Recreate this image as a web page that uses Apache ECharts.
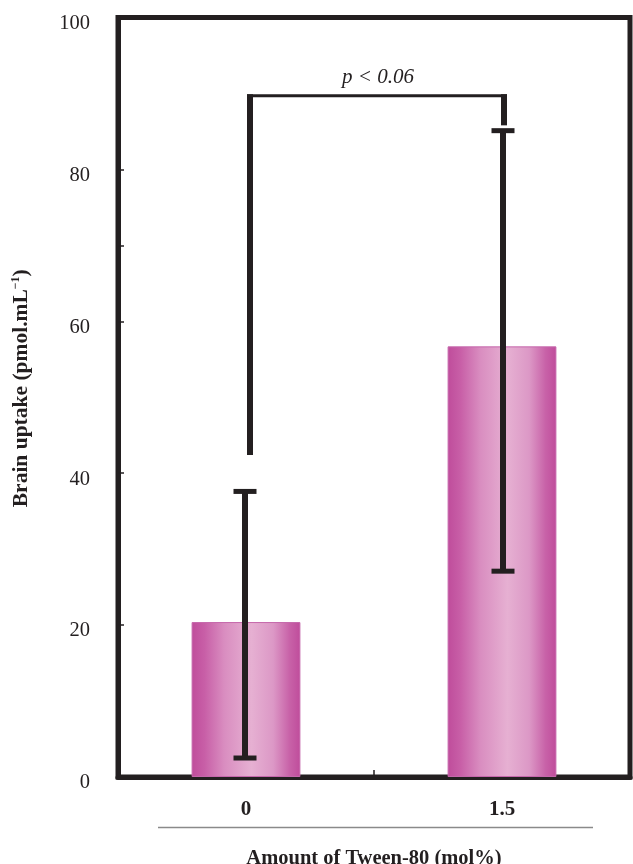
<!DOCTYPE html>
<html>
<head>
<meta charset="utf-8">
<script src="https://cdn.jsdelivr.net/npm/echarts@6/dist/echarts.min.js"></script>
<style>
  html, body { margin: 0; padding: 0; background: #ffffff; }
  #chart { width: 633px; height: 864px; }
</style>
</head>
<body>
<div id="chart"></div>
<script>
// Brain uptake by Tween-80 content
const categories = ['0', '1.5'];
const uptakeMean = [20.4, 56.7];
const errLow = [2.5, 27.1];
const errHigh = [37.6, 85.1];
const yTickLabels = [0, 20, 40, 60, 80, 100];
const yTickMarks = [20, 40, 60, 70, 80];
// significance bracket: left leg start, top, right leg end
const bracketFrom = [0, 42.4];
const bracketTop = 89.7;
const bracketTo = [1, 85.8];
const pLabel = 'p < 0.06';

const ink = '#231f20';
const serif = '"Liberation Serif", "DejaVu Serif", serif';

const chart = echarts.init(document.getElementById('chart'));

const barFill = new echarts.graphic.LinearGradient(0, 0, 1, 0, [
  { offset: 0.00, color: '#bf4c9b' },
  { offset: 0.12, color: '#c85fa7' },
  { offset: 0.30, color: '#d98dc0' },
  { offset: 0.55, color: '#e6b0d2' },
  { offset: 0.75, color: '#dc98c6' },
  { offset: 0.90, color: '#c862a8' },
  { offset: 1.00, color: '#bf4c9b' }
]);

chart.setOption({
  animation: false,
  backgroundColor: '#ffffff',
  grid: {
    left: 118, right: 3, top: 17.5, bottom: 87,
    outerBoundsMode: 'none',
    containLabel: false,
    show: true, borderColor: ink, borderWidth: 5, backgroundColor: 'transparent'
  },
  xAxis: {
    type: 'category',
    data: categories,
    boundaryGap: true,
    axisLine: { show: true, lineStyle: { color: ink, width: 5 } },
    axisTick: { show: true, inside: true, length: 7, lineStyle: { color: ink, width: 1.5 } },
    axisLabel: { color: ink, fontFamily: serif, fontWeight: 'bold', fontSize: 21, margin: 22 },
    name: 'Amount of Tween-80 (mol%)',
    nameLocation: 'middle',
    nameGap: 71,
    nameTextStyle: { color: ink, fontFamily: serif, fontWeight: 'bold', fontSize: 20.5 }
  },
  yAxis: {
    type: 'value',
    min: 0, max: 100, interval: 20,
    splitLine: { show: false },
    axisLine: { show: true, lineStyle: { color: ink, width: 5 } },
    axisTick: {
      show: true, inside: true, length: 6,
      customValues: yTickMarks,
      lineStyle: { color: ink, width: 1.5 }
    },
    axisLabel: {
      color: ink, fontFamily: serif, fontSize: 20.5, margin: 28,
      customValues: yTickLabels,
      verticalAlign: 'top',
      lineHeight: 12
    },
    name: 'Brain uptake (pmol.mL{sup|−1})',
    nameLocation: 'middle',
    nameGap: 86,
    nameRotate: 90,
    nameTextStyle: {
      color: ink, fontFamily: serif, fontWeight: 'bold', fontSize: 21.5,
      padding: [0, 0, 0, 18],
      rich: { sup: { fontFamily: serif, fontSize: 12, verticalAlign: 'top', padding: [0, 0, 10, 0], color: ink } }
    }
  },
  graphic: [
    {
      type: 'line',
      shape: { x1: 158, y1: 827.5, x2: 593, y2: 827.5 },
      style: { stroke: '#8a8a8a', lineWidth: 1.5 }
    }
  ],
  series: [
    {
      type: 'bar',
      data: uptakeMean,
      barWidth: '42.5%',
      itemStyle: { color: barFill, borderColor: '#c567ab', borderWidth: 1 },
      z: 2
    },
    {
      // error bars with caps
      type: 'custom',
      z: 5,
      data: categories.map((c, i) => [i, errLow[i], errHigh[i]]),
      renderItem: function (params, api) {
        const lo = api.coord([api.value(0), api.value(1)]);
        const hi = api.coord([api.value(0), api.value(2)]);
        const x = lo[0] + (api.value(0) === 0 ? -1 : 1);
        const half = 11.5;
        const st = { stroke: ink, lineWidth: 6, lineCap: 'butt' };
        const capSt = { stroke: ink, lineWidth: 5, lineCap: 'butt' };
        return {
          type: 'group',
          children: [
            { type: 'line', shape: { x1: x, y1: lo[1], x2: x, y2: hi[1] }, style: st },
            { type: 'line', shape: { x1: x - half, y1: lo[1], x2: x + half, y2: lo[1] }, style: capSt },
            { type: 'line', shape: { x1: x - half, y1: hi[1], x2: x + half, y2: hi[1] }, style: capSt }
          ]
        };
      }
    },
    {
      // significance bracket with label
      type: 'custom',
      z: 6,
      data: [[bracketFrom[0], bracketFrom[1], bracketTo[0], bracketTo[1], bracketTop]],
      renderItem: function (params, api) {
        const a = api.coord([api.value(0), api.value(1)]);
        const b = api.coord([api.value(2), api.value(3)]);
        const topY = api.coord([api.value(0), api.value(4)])[1];
        const xa = a[0] + 4;
        const xb = b[0] + 2;
        return {
          type: 'group',
          children: [
            { type: 'line', shape: { x1: xa, y1: a[1], x2: xa, y2: topY - 1.5 }, style: { stroke: ink, lineWidth: 6 } },
            { type: 'line', shape: { x1: xa - 3, y1: topY, x2: xb + 3, y2: topY }, style: { stroke: ink, lineWidth: 3 } },
            { type: 'line', shape: { x1: xb, y1: topY - 1.5, x2: xb, y2: b[1] }, style: { stroke: ink, lineWidth: 6 } },
            {
              type: 'text',
              style: {
                x: (xa + xb) / 2 + 1, y: topY - 18,
                text: pLabel,
                fill: ink,
                font: 'italic 21px ' + serif,
                align: 'center', verticalAlign: 'middle'
              }
            }
          ]
        };
      }
    }
  ]
});
</script>
</body>
</html>
